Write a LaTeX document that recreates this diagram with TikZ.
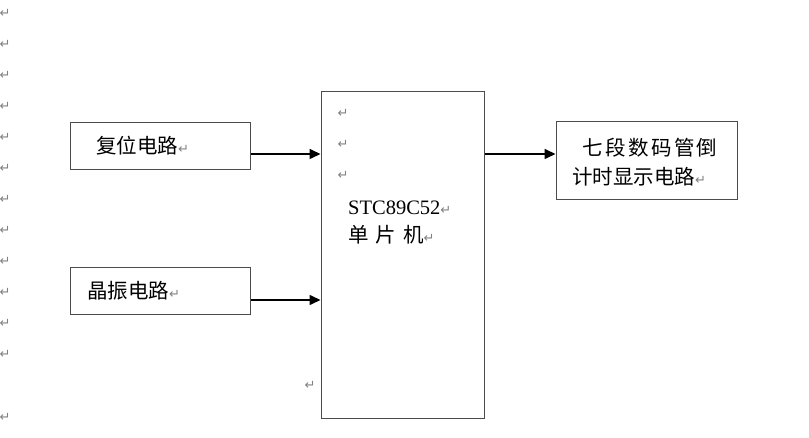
\documentclass[tikz,border=0pt]{standalone}
\usepackage{fontspec}
\setmainfont{Liberation Serif}
\newfontfamily\cjk{Noto Sans CJK SC}
\newfontfamily\markfont{DejaVu Sans}
\usetikzlibrary{arrows.meta}
\newcommand{\rmk}{{\markfont\fontsize{13}{13}\selectfont\color{black!50}↵}}

\tikzset{blk/.style={draw=black!70,line width=1pt,inner sep=0pt}}
\tikzset{flow/.style={-{Triangle[length=11pt,width=10pt]},line width=1.6pt}}
\tikzset{txt/.style={anchor=base west,inner sep=0pt,font=\cjk\fontsize{20.5}{24}\selectfont}}
\tikzset{pmark/.style={inner sep=0pt,font=\markfont\fontsize{13}{13}\selectfont,text=black!50}}

\begin{document}
\begin{tikzpicture}[x=1pt,y=-1pt]
        \useasboundingbox (0,0) rectangle (809,438);
        % draw the paragraph marks
        \foreach \y in {13,44,...,354} \node[pmark] (m\y) at (5,\y) {↵};
        \node[pmark] (mlow) at (5,417) {↵};
        \foreach \y in {113,144,175} \node[pmark] (c\y) at (343,\y) {↵};
        \node[pmark] (mleft) at (310,385) {↵};
        % draw the boxes
        \node[blk,minimum width=180pt,minimum height=47pt] (reset) at (160,146) {};
        \node[blk,minimum width=180pt,minimum height=47pt] (xtal) at (160,291.5) {};
        \node[blk,minimum width=163pt,minimum height=326pt] (mcu) at (402.5,255) {};
        \node[blk,minimum width=181pt,minimum height=78pt] (disp) at (646.5,161) {};
        % texts
        \node[txt] (resettxt) at (96,154) {复位电路\rmk};
        \node[txt] (xtaltxt) at (87,299) {晶振电路\rmk};
        \node[txt] (disp1) at (582,155.5) {\addfontfeature{LetterSpace=12}七段数码管倒};
        \node[txt] (disp2) at (572,184.5) {计时显示电路\rmk};
        \node[txt,font=\fontsize{20.5}{24}\selectfont] (chip) at (348,215) {STC89C52\rmk};
        \node[txt] (chipcn) at (348,242.5) {单\hspace{7pt}片\hspace{7pt}机\rmk};
        % draw the arrows
        \draw[flow] (reset.east |- 0,154) -- (mcu.west |- 0,154);
        \draw[flow] (xtal.east |- 0,300) -- (mcu.west |- 0,300);
        \draw[flow] (mcu.east |- 0,154) -- (disp.west |- 0,154);
\end{tikzpicture}
\end{document}
